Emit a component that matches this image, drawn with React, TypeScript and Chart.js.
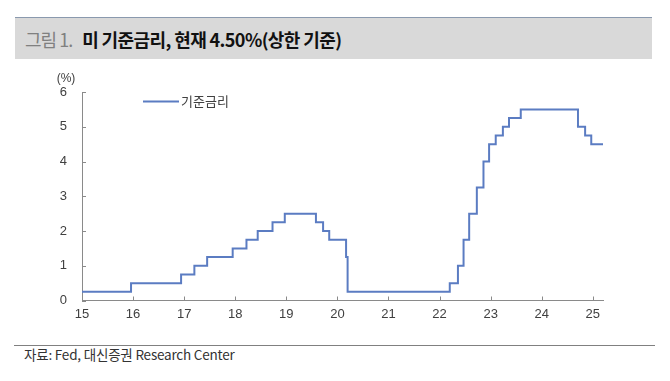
import React, { useEffect, useRef } from "react";
import { Chart, registerables } from "chart.js";

Chart.register(...registerables);

// Fed funds target rate (upper bound), change dates as 2-digit decimal years
const changeDates = [15.0, 15.96, 16.94, 17.2, 17.45, 17.95, 18.22, 18.44, 18.73, 18.97, 19.58, 19.72, 19.84, 20.17, 20.2, 22.2, 22.36, 22.47, 22.58, 22.73, 22.86, 22.97, 23.1, 23.24, 23.36, 23.59, 24.71, 24.85, 24.97, 25.2];
const rates = [0.25, 0.5, 0.75, 1.0, 1.25, 1.5, 1.75, 2.0, 2.25, 2.5, 2.25, 2.0, 1.75, 1.25, 0.25, 0.5, 1.0, 1.75, 2.5, 3.25, 4.0, 4.5, 4.75, 5.0, 5.25, 5.5, 5.0, 4.75, 4.5, 4.5];
const xTickValues = [15, 16, 17, 18, 19, 20, 21, 22, 23, 24, 25];
const yTickValues = [0, 1, 2, 3, 4, 5, 6];
const seriesName = "기준금리";
const unitLabel = "(%)";
const titlePrefix = "그림 1.";
const titleText = "미 기준금리, 현재 4.50%(상한 기준)";
const sourceText = "자료: Fed, 대신증권 Research Center";

const LINE_COLOR = "#5b7cc2";
const AXIS_COLOR = "#8a8a8a";
const TEXT_COLOR = "#404040";
const NUM_FONT = "'Liberation Sans', Arial, sans-serif";
const KR_FONT = "'Noto Sans CJK KR', 'Noto Sans', sans-serif";

const decorPlugin = {
  id: "decor",
  afterDraw(chart: any) {
    const ctx = chart.ctx;
    const ca = chart.chartArea;
    const xs = chart.scales.x;
    const ys = chart.scales.y;
    ctx.save();
    ctx.strokeStyle = AXIS_COLOR;
    ctx.lineWidth = 1;
    ctx.beginPath();
    xTickValues.forEach((v) => {
      const px = Math.round(xs.getPixelForValue(v)) + 0.5;
      ctx.moveTo(px, ca.bottom);
      ctx.lineTo(px, ca.bottom - 4);
    });
    yTickValues.forEach((v) => {
      const py = Math.round(ys.getPixelForValue(v)) + 0.5;
      ctx.moveTo(ca.left, py);
      ctx.lineTo(ca.left + 4, py);
    });
    ctx.stroke();

    // unit label
    ctx.fillStyle = TEXT_COLOR;
    ctx.font = `12px ${NUM_FONT}`;
    ctx.textAlign = "center";
    ctx.textBaseline = "middle";
    ctx.fillText(unitLabel, ca.left - 16, ca.top - 13);

    // legend
    const ds = chart.data.datasets[0];
    const lx = ca.left + 61;
    const ly = ca.top + 9.5;
    ctx.strokeStyle = ds.borderColor;
    ctx.lineWidth = 2;
    ctx.beginPath();
    ctx.moveTo(lx, ly);
    ctx.lineTo(lx + 36, ly);
    ctx.stroke();
    ctx.fillStyle = TEXT_COLOR;
    ctx.font = `13px ${KR_FONT}`;
    ctx.textAlign = "left";
    ctx.fillText(ds.label, lx + 38, ly);
    ctx.restore();
  },
};

export default function App() {
  const canvasRef = useRef<HTMLCanvasElement | null>(null);

  useEffect(() => {
    const canvas = canvasRef.current;
    if (!canvas) return;
    const chart = new Chart(canvas, {
      type: "line",
      data: {
        datasets: [
          {
            label: seriesName,
            data: changeDates.map((d, i) => ({ x: d, y: rates[i] })),
            borderColor: LINE_COLOR,
            borderWidth: 2,
            pointRadius: 0,
            stepped: true,
            fill: false,
          },
        ],
      },
      options: {
        animation: false,
        responsive: false,
        maintainAspectRatio: false,
        layout: { padding: { top: 32, right: 67, bottom: 0, left: 0 } },
        plugins: { legend: { display: false }, tooltip: { enabled: false } },
        scales: {
          x: {
            type: "linear",
            min: 15,
            max: 25.2,
            grid: { display: false, drawTicks: false },
            border: { display: true, color: AXIS_COLOR, width: 1 },
            afterBuildTicks: (scale: any) => {
              scale.ticks = xTickValues.map((v) => ({ value: v }));
            },
            afterFit: (scale: any) => {
              scale.height = 39.5;
            },
            ticks: {
              autoSkip: false,
              maxRotation: 0,
              padding: 6,
              color: TEXT_COLOR,
              font: { family: NUM_FONT, size: 13 },
              callback: (v: any) => String(v),
            },
          },
          y: {
            type: "linear",
            min: 0,
            max: 6,
            grid: { display: false, drawTicks: false },
            border: { display: true, color: AXIS_COLOR, width: 1 },
            afterBuildTicks: (scale: any) => {
              scale.ticks = yTickValues.map((v) => ({ value: v }));
            },
            afterFit: (scale: any) => {
              scale.width = 82;
            },
            ticks: {
              padding: 15,
              color: TEXT_COLOR,
              font: { family: NUM_FONT, size: 13 },
              callback: (v: any) => String(v),
            },
          },
        },
      },
      plugins: [decorPlugin],
    });
    return () => chart.destroy();
  }, []);

  return (
    <div
      style={{
        position: "fixed",
        left: 0,
        top: 0,
        width: 670,
        height: 381,
        background: "#ffffff",
        overflow: "hidden",
      }}
    >
      <div
        style={{
          position: "absolute",
          left: 15,
          top: 17,
          width: 637,
          height: 41,
          background: "#d9d9d9",
          borderTop: "1px solid #8a99ae",
          display: "flex",
          alignItems: "center",
          whiteSpace: "nowrap",
          fontFamily: KR_FONT,
          fontSize: 18,
        }}
      >
        <span style={{ marginLeft: 10, color: "#808080", letterSpacing: -1 }}>{titlePrefix}</span>
        <span style={{ marginLeft: 10, color: "#111111", fontWeight: 700, letterSpacing: -0.6 }}>{titleText}</span>
      </div>
      <div style={{ position: "absolute", left: 0, top: 60, width: 670, height: 280 }}>
        <canvas ref={canvasRef} width={670} height={280} style={{ width: 670, height: 280, display: "block" }} />
      </div>
      <div
        style={{
          position: "absolute",
          left: 14,
          top: 345,
          width: 641,
          height: 1,
          background: "#808080",
        }}
      />
      <div
        style={{
          position: "absolute",
          left: 24,
          top: 346,
          lineHeight: "17px",
          fontFamily: KR_FONT,
          fontSize: 13.5,
          color: "#333333",
          letterSpacing: -0.2,
          whiteSpace: "nowrap",
        }}
      >
        {sourceText}
      </div>
    </div>
  );
}
